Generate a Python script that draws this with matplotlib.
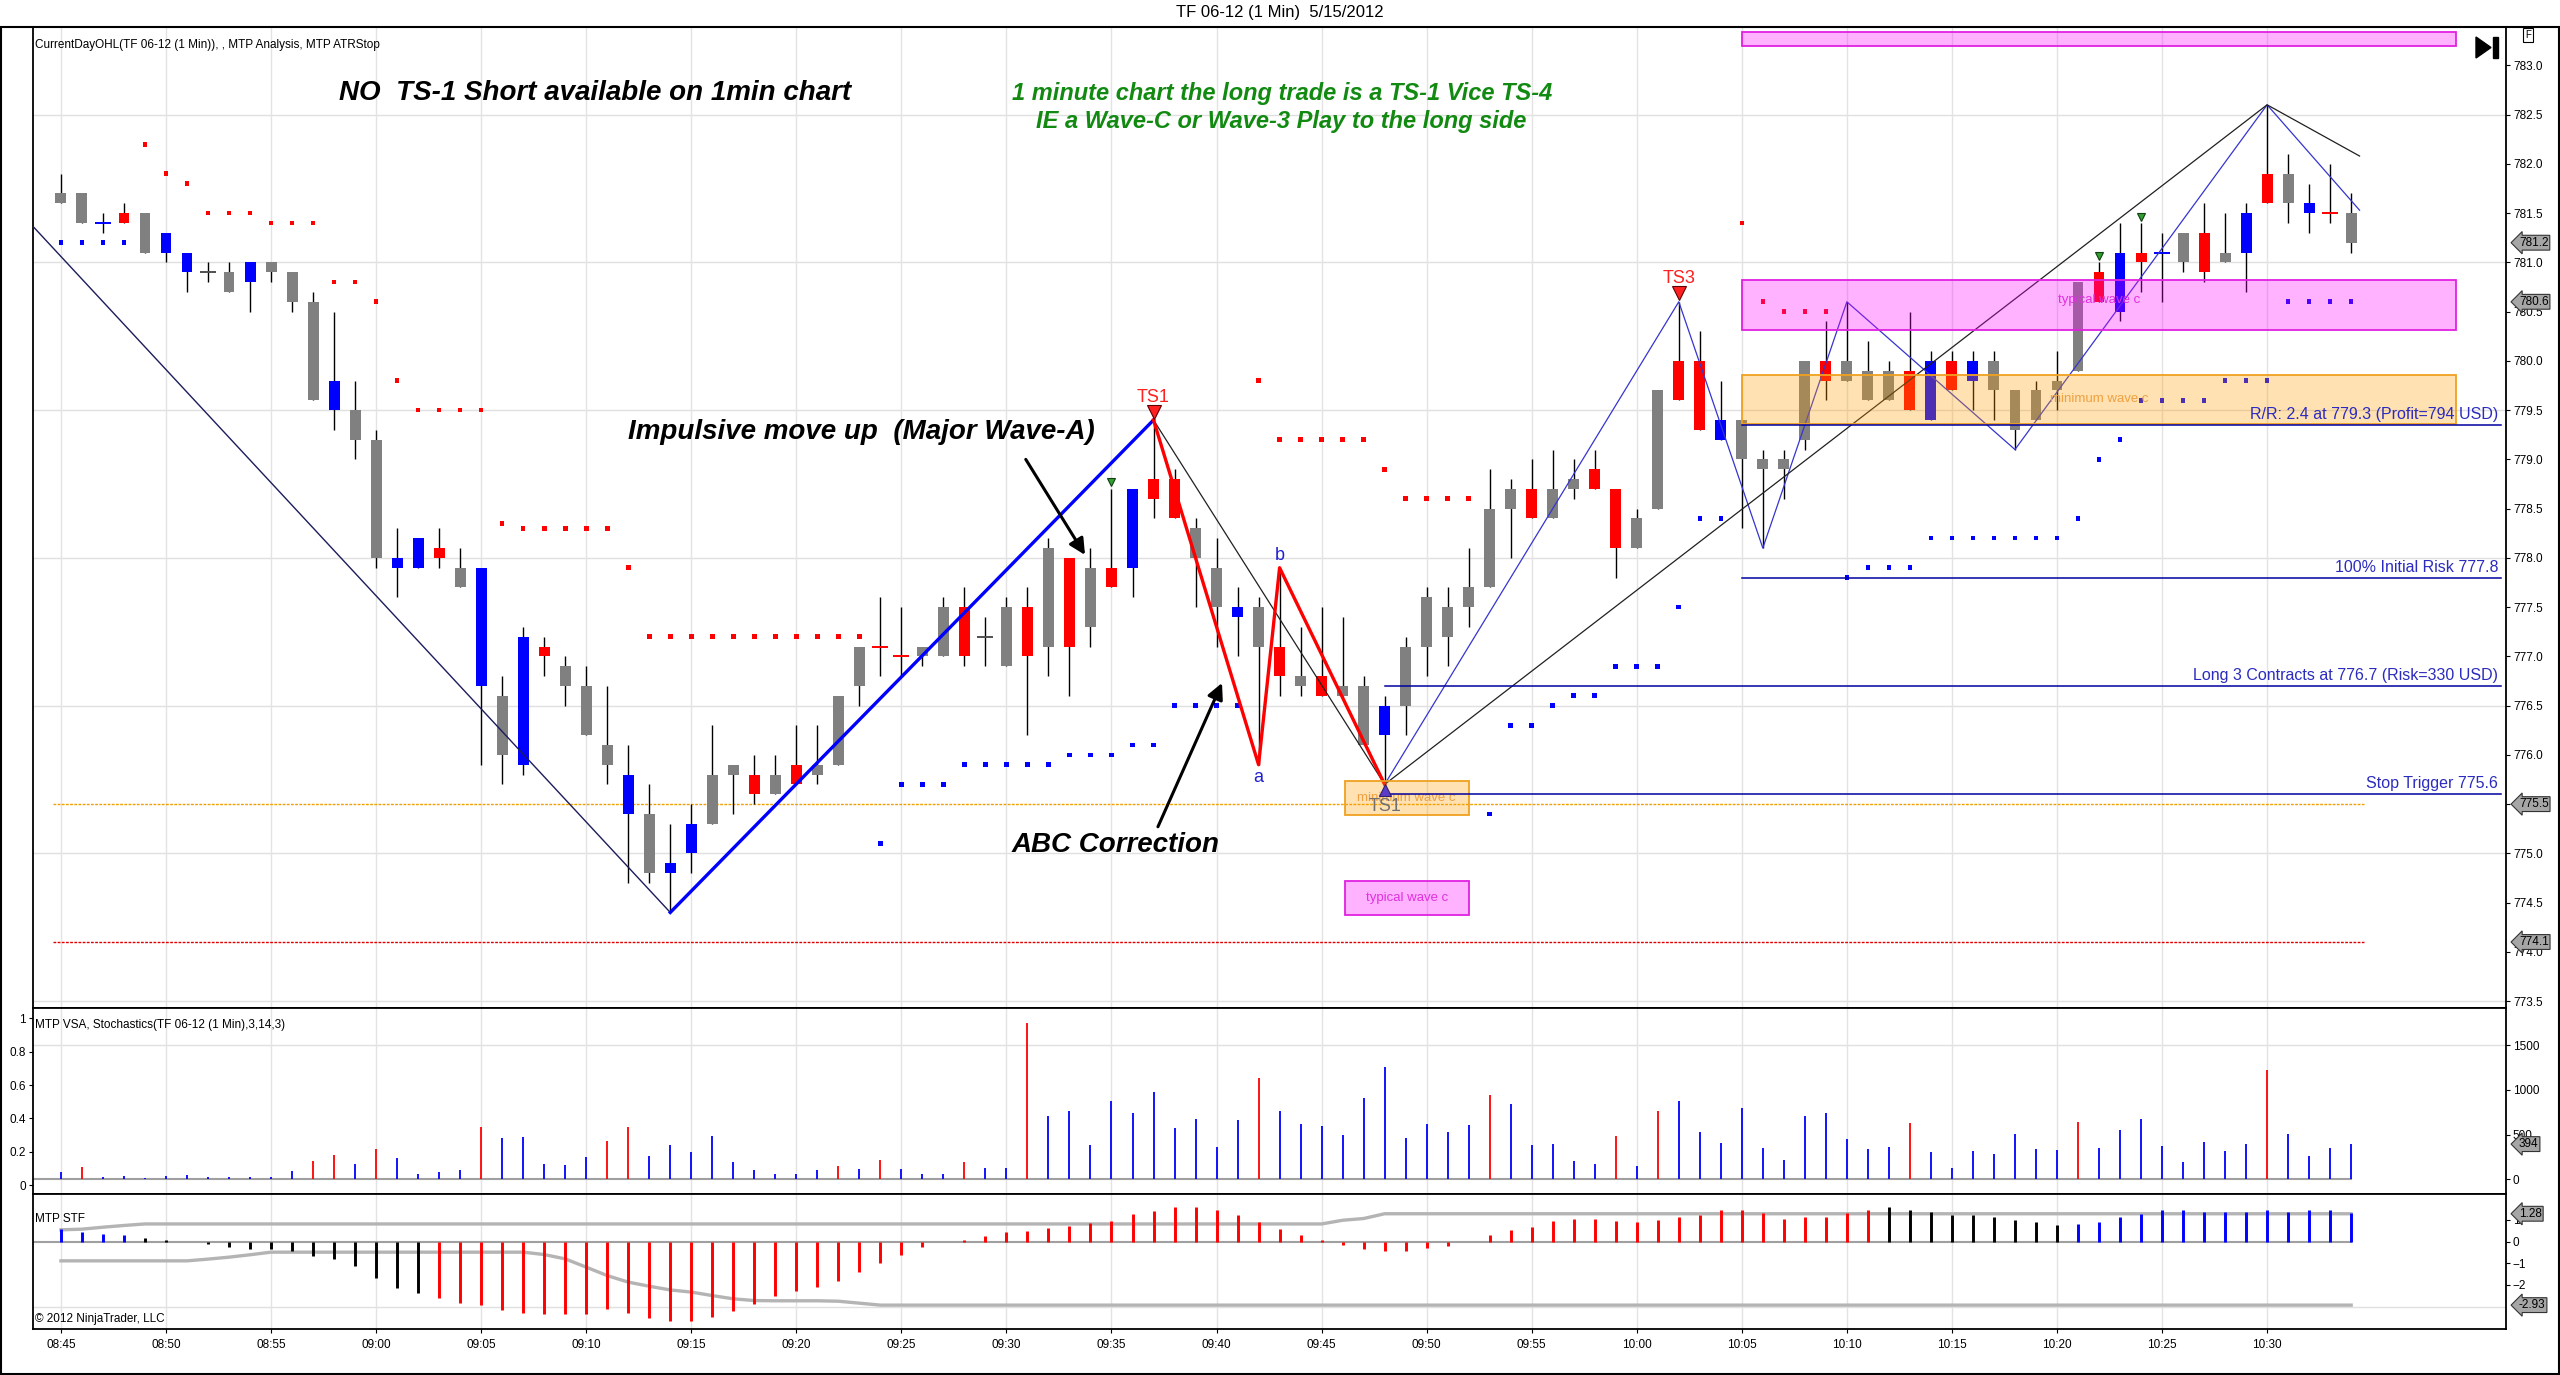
import numpy as np
import matplotlib
matplotlib.use("Agg")
import matplotlib.pyplot as plt
from matplotlib.patches import Rectangle, Polygon

plt.rcParams["font.family"] = ["Liberation Sans Narrow", "Liberation Sans", "DejaVu Sans"]

# ---------------- data ----------------
time_labels = ["08:45", "08:50", "08:55", "09:00", "09:05", "09:10", "09:15", "09:20",
               "09:25", "09:30", "09:35", "09:40", "09:45", "09:50", "09:55", "10:00",
               "10:05", "10:10", "10:15", "10:20", "10:25", "10:30"]

opens = [781.7, 781.7, 781.4, 781.4, 781.5, 781.3, 781.1, 780.9, 780.9, 780.8,
         781.0, 780.9, 780.6, 779.5, 779.5, 779.2, 777.9, 777.9, 778.1, 777.9,
         777.9, 776.6, 775.9, 777.1, 776.9, 776.7, 776.1, 775.8, 775.4, 774.8,
         775.0, 775.3, 775.8, 775.8, 775.6, 775.9, 775.8, 775.9, 776.7, 777.1,
         777.0, 777.0, 777.0, 777.5, 777.2, 776.9, 777.5, 777.1, 778.0, 777.3,
         777.9, 777.9, 778.8, 778.8, 778.3, 777.9, 777.4, 777.5, 777.1, 776.8,
         776.8, 776.7, 776.7, 776.2, 776.5, 777.1, 777.5, 777.5, 777.7, 778.5,
         778.7, 778.4, 778.7, 778.9, 778.7, 778.1, 778.5, 780.0, 780.0, 779.2,
         779.4, 779.0, 778.9, 779.2, 780.0, 779.8, 779.9, 779.6, 779.9, 779.4,
         780.0, 779.8, 780.0, 779.7, 779.4, 779.7, 779.9, 780.9, 780.5, 781.1,
         781.1, 781.0, 781.3, 781.0, 781.1, 781.9, 781.9, 781.5, 781.5, 781.5]
highs = [781.9, 781.7, 781.5, 781.6, 781.5, 781.3, 781.1, 781.0, 781.0, 781.0,
         781.0, 780.9, 780.7, 780.5, 779.8, 779.3, 778.3, 778.2, 778.3, 778.1,
         777.9, 776.8, 777.3, 777.2, 777.0, 776.9, 776.7, 776.1, 775.7, 775.3,
         775.5, 776.3, 775.9, 776.0, 776.0, 776.3, 776.3, 776.6, 777.1, 777.6,
         777.5, 777.1, 777.6, 777.7, 777.4, 777.6, 777.7, 778.2, 778.0, 778.1,
         778.7, 778.7, 779.4, 778.9, 778.4, 778.2, 777.7, 777.6, 777.9, 777.3,
         777.5, 777.4, 776.8, 776.6, 777.2, 777.7, 777.7, 778.1, 778.9, 778.8,
         779.0, 779.1, 779.0, 779.1, 778.7, 778.5, 779.7, 780.6, 780.3, 779.8,
         779.4, 779.1, 779.1, 780.0, 780.4, 780.6, 780.2, 780.0, 780.5, 780.1,
         780.1, 780.1, 780.1, 779.7, 779.8, 780.1, 780.8, 781.0, 781.4, 781.4,
         781.3, 781.3, 781.6, 781.5, 781.6, 782.6, 782.1, 781.8, 782.0, 781.7]
lows = [781.6, 781.4, 781.3, 781.4, 781.1, 781.0, 780.7, 780.8, 780.7, 780.5,
        780.8, 780.5, 779.6, 779.3, 779.0, 777.9, 777.6, 777.9, 777.9, 777.7,
        775.9, 775.7, 775.8, 776.8, 776.5, 776.2, 775.7, 774.7, 774.7, 774.4,
        774.8, 775.3, 775.4, 775.5, 775.6, 775.7, 775.7, 775.9, 776.5, 776.8,
        776.8, 776.9, 777.0, 776.9, 776.9, 776.9, 776.2, 776.8, 776.6, 777.1,
        777.7, 777.6, 778.4, 778.4, 777.5, 777.1, 777.0, 775.9, 776.6, 776.6,
        776.6, 776.6, 776.1, 775.7, 776.2, 776.8, 776.9, 777.3, 777.7, 778.0,
        778.4, 778.4, 778.6, 778.7, 777.8, 778.1, 778.5, 779.6, 779.3, 779.2,
        778.3, 778.1, 778.6, 779.1, 779.6, 779.8, 779.6, 779.6, 779.5, 779.4,
        779.7, 779.5, 779.4, 779.1, 779.4, 779.5, 779.9, 780.6, 780.4, 780.7,
        780.6, 780.9, 780.8, 781.0, 780.7, 781.6, 781.4, 781.3, 781.4, 781.1]
closes = [781.6, 781.4, 781.4, 781.5, 781.1, 781.1, 780.9, 780.9, 780.7, 781.0,
          780.9, 780.6, 779.6, 779.8, 779.2, 778.0, 778.0, 778.2, 778.0, 777.7,
          776.7, 776.0, 777.2, 777.0, 776.7, 776.2, 775.9, 775.4, 774.8, 774.9,
          775.3, 775.8, 775.9, 775.6, 775.8, 775.7, 775.9, 776.6, 777.1, 777.1,
          777.0, 777.1, 777.5, 777.0, 777.2, 777.5, 777.0, 778.1, 777.1, 777.9,
          777.7, 778.7, 778.6, 778.4, 778.0, 777.5, 777.5, 777.1, 776.8, 776.7,
          776.6, 776.6, 776.1, 776.5, 777.1, 777.6, 777.2, 777.7, 778.5, 778.7,
          778.4, 778.7, 778.8, 778.7, 778.1, 778.4, 779.7, 779.6, 779.3, 779.4,
          779.0, 778.9, 779.0, 780.0, 779.8, 780.0, 779.6, 779.9, 779.5, 780.0,
          779.7, 780.0, 779.7, 779.3, 779.7, 779.8, 780.8, 780.6, 781.1, 781.0,
          781.1, 781.3, 780.9, 781.1, 781.5, 781.6, 781.6, 781.6, 781.5, 781.2]
# g = gray, b = blue, r = red (MTP bar colouring)
bar_colors = ("ggbrgbbggb" "gggbggbbrg" "bgbrgggbgb" "bggrgrgggr" "rggrggrgrg"
              "rbrrggbgrg" "rggbgggggg" "rggrrggrrb" "ggggrgggrb" "rbgggggrbr" "bgrgbrgbrg")

# ATR stop dots
atr_stop = ([781.2] * 4 + [782.2, 781.9, 781.8] + [781.5] * 3 + [781.4] * 3 + [780.8] * 2
            + [780.6, 779.8] + [779.5] * 4 + [778.35] + [778.3] * 5 + [777.9] + [777.2] * 11
            + [775.1] + [775.7] * 3 + [775.9] * 5 + [776.0] * 3 + [776.1] * 2 + [776.5] * 4
            + [779.8] + [779.2] * 5 + [778.9] + [778.6] * 4
            + [775.4] + [776.3] * 2 + [776.5] + [776.6] * 2 + [776.9] * 3 + [777.5] + [778.4] * 2
            + [781.4, 780.6] + [780.5] * 3
            + [777.8] + [777.9] * 3 + [778.2] * 7 + [778.4, 779.0, 779.2] + [779.6] * 4
            + [779.8] * 3 + [780.6] * 4)
atr_colors = "b" * 4 + "r" * 35 + "b" * 18 + "r" * 11 + "b" * 12 + "r" * 5 + "b" * 25

volume = [78, 138, 22, 37, 11, 37, 48, 26, 26, 26,
          26, 93, 205, 272, 172, 339, 239, 63, 82, 104,
          585, 466, 477, 172, 160, 250, 429, 585, 265, 384,
          306, 489, 194, 104, 63, 63, 104, 149, 116, 213,
          116, 63, 63, 194, 127, 127, 1749, 709, 764, 384,
          876, 742, 977, 574, 675, 362, 664, 1134, 764, 619,
          597, 496, 910, 1257, 462, 619, 530, 608, 943, 843,
          384, 395, 205, 172, 485, 149, 764, 876, 530, 406,
          798, 351, 216, 709, 742, 451, 339, 362, 630, 306,
          127, 317, 283, 507, 339, 328, 641, 351, 552, 675,
          373, 194, 418, 317, 395, 1223, 507, 261, 351, 394]
vol_colors = ("brbbbbbbbb" "bbrrbrbbbb" "rbbbbbrrbb" "bbbbbbbrbr" "bbbrbbrbbb"
              "bbbbbbbrbb" "bbbbbbbbrb" "bbbbrbrbbb" "bbbbbbbbrb" "bbbbbbrbbb" "bbbbbrbbbb")

stf = [0.60, 0.46, 0.35, 0.28, 0.17, 0.06, -0.03, -0.12, -0.26, -0.34,
       -0.34, -0.45, -0.65, -0.81, -1.14, -1.69, -2.14, -2.38, -2.61, -2.84,
       -2.93, -3.16, -3.27, -3.35, -3.35, -3.32, -3.12, -3.30, -3.53, -3.67,
       -3.67, -3.49, -3.21, -2.89, -2.52, -2.29, -2.10, -1.83, -1.41, -1.00,
       -0.63, -0.26, 0.0, 0.09, 0.25, 0.43, 0.48, 0.61, 0.71, 0.84,
       0.94, 1.26, 1.40, 1.61, 1.61, 1.47, 1.20, 0.89, 0.58, 0.28,
       0.09, -0.14, -0.35, -0.45, -0.45, -0.32, -0.22, 0.0, 0.32, 0.55,
       0.65, 0.94, 1.06, 1.06, 0.94, 0.88, 1.01, 1.15, 1.20, 1.43,
       1.47, 1.31, 1.06, 1.12, 1.15, 1.31, 1.43, 1.58, 1.43, 1.38,
       1.24, 1.24, 1.11, 1.01, 0.89, 0.78, 0.83, 0.88, 1.11, 1.29,
       1.43, 1.43, 1.38, 1.34, 1.34, 1.43, 1.38, 1.43, 1.43, 1.31]
stf_colors = "b" * 4 + "k" * 14 + "r" * 69 + "k" * 9 + "b" * 14
stf_upper = [0.54, 0.57, 0.66, 0.74] + [0.81] * 57 + [0.98, 1.06] + [1.28] * 47
stf_lower = ([-0.89] * 7 + [-0.81, -0.72, -0.61] + [-0.49] * 13
             + [-0.60, -0.80, -1.18, -1.57, -1.87, -2.06, -2.23, -2.33, -2.49, -2.64,
                -2.72, -2.73, -2.73, -2.73, -2.75, -2.84] + [-2.93] * 71)

# swing / wave lines (bar index, price)
down_leg = ([-1.35, 29], [781.37, 774.4])
wave_a = ([29, 52], [774.4, 779.4])
abc_leg = ([52, 57, 58, 63], [779.4, 775.9, 777.9, 775.7])
ts1_leg = ([52, 63], [779.4, 775.7])
swing_blue = ([63, 77, 81, 85, 93, 105, 109.4], [775.7, 780.6, 778.1, 780.6, 779.1, 782.6, 781.53])
swing_black = ([63, 105, 109.4], [775.7, 782.6, 782.08])

# trade levels: price, first bar, label
levels = [(779.35, 80, "R/R: 2.4 at 779.3 (Profit=794 USD)"),
          (777.8, 80, "100% Initial Risk 777.8"),
          (776.7, 63, "Long 3 Contracts at 776.7 (Risk=330 USD)"),
          (775.6, 63, "Stop Trigger 775.6")]

# target zones: x0, x1, y0, y1, kind, label
zones = [(80, 114, 783.20, 783.34, "pink", ""),
         (80, 114, 780.31, 780.82, "pink", "typical wave c"),
         (80, 114, 779.36, 779.86, "orange", "minimum wave c"),
         (61.1, 67.0, 775.39, 775.73, "orange", "minimum wave c"),
         (61.1, 67.0, 774.37, 774.72, "pink", "typical wave c")]

# ---------------- figure ----------------
W, H = 2560, 1375
L, R = 33, 2506
fig = plt.figure(figsize=(W / 100, H / 100), dpi=100)
fig.patch.set_facecolor("white")


def panel(top, bottom):
    return fig.add_axes([L / W, 1 - bottom / H, (R - L) / W, (bottom - top) / H])


ax = panel(27, 1008)
axv = panel(1008, 1194)
axs = panel(1194, 1329)

bars = np.arange(len(opens))
xlim = (-1.33, 116.37)
tick_pos = np.arange(0, 106, 5)
for a in (ax, axv, axs):
    a.set_xlim(*xlim)
    a.set_xticks(tick_pos)
    a.grid(axis="x", color="#e3e3e3", lw=1, zorder=0)
    for s in a.spines.values():
        s.set_linewidth(1.3)
        s.set_color("black")
    a.tick_params(axis="y", which="both", left=False, right=True, labelleft=False,
                  labelright=True, direction="out", length=3, labelsize=8.5, pad=2)
for a in (ax, axv):
    a.tick_params(axis="x", length=0, labelbottom=False)
axs.set_xticklabels(time_labels)
axs.tick_params(axis="x", length=3, labelsize=8.5, pad=4)

# ---- main price panel ----
ax.set_ylim(773.43, 783.39)
price_ticks = np.arange(773.5, 783.01, 0.5)
ax.set_yticks(price_ticks)
ax.set_yticklabels([f"{p:.1f}" for p in price_ticks])
for gy in [773.5, 775.0, 776.5, 778.0, 779.5, 781.0, 782.5]:
    ax.axhline(gy, color="#e0e0e0", lw=1, zorder=0)

cmap = {"g": "#808080", "b": "#0000ff", "r": "#ff0000", "k": "#000000"}
o, h, l, c = map(np.array, (opens, highs, lows, closes))
cols = np.array([cmap[k] for k in bar_colors])
ax.vlines(bars, l, h, color="black", lw=1, zorder=3)
lo, hi = np.minimum(o, c), np.maximum(o, c)
has_body = (hi - lo) > 0.01
ax.bar(bars[has_body], (hi - lo)[has_body], bottom=lo[has_body], width=0.52,
       color=cols[has_body], linewidth=0, zorder=4)
doji_cols = ["#505050" if k == "g" else cmap[k] for k in np.array(list(bar_colors))[~has_body]]
ax.hlines(o[~has_body], bars[~has_body] - 0.38, bars[~has_body] + 0.38,
          colors=doji_cols, lw=1.4, zorder=4)

ax.scatter(bars, atr_stop, marker="s", s=11, c=[cmap[k] for k in atr_colors],
           linewidths=0, zorder=4.2)

# reference dotted lines
ax.plot([-0.4, 109.6], [775.5, 775.5], color="#f0a000", lw=1, ls=(0, (2, 1)), zorder=2)
ax.plot([-0.4, 109.6], [774.1, 774.1], color="#e00000", lw=1, ls=(0, (2, 1)), zorder=2)

# wave lines
ax.plot(*down_leg, color="#1c1c5c", lw=1, zorder=4.5)
ax.plot(*wave_a, color="#0000ff", lw=2.4, zorder=4.6)
ax.plot(*ts1_leg, color="#202020", lw=0.9, zorder=4.5)
ax.plot(*abc_leg, color="#ff0000", lw=2.4, zorder=4.6)
ax.plot(*swing_blue, color="#3535d0", lw=0.9, zorder=4.5)
ax.plot(*swing_black, color="#202020", lw=0.9, zorder=4.5)

# zones
zone_style = {"pink": ((1, 0, 1, 0.3), "#e020e0", "#e030e0"),
              "orange": ((1, 0.62, 0, 0.3), "#f0a020", "#f0a040")}
for x0, x1, y0, y1, kind, label in zones:
    fc, ec, tc = zone_style[kind]
    ax.add_patch(Rectangle((x0, y0), x1 - x0, y1 - y0, facecolor=fc, edgecolor=ec,
                           lw=1.3, zorder=5))
    if label:
        ax.text((x0 + x1) / 2 if x1 < 100 else 97, (y0 + y1) / 2 + (0.05 if kind == "pink" and x1 > 100 else 0),
                label, color=tc, fontsize=9.5, ha="center", va="center", zorder=5.5)

# trade levels
for price, start, label in levels:
    ax.plot([start, 116.13], [price, price], color="#0000a0", lw=1.1, zorder=6)
    ax.text(116.0, price + 0.03, label, color="#2b2bbf", fontsize=11.5, ha="right",
            va="bottom", zorder=7)

# signal markers
ax.plot(52, 779.48, marker="v", ms=10, mfc="#ff2020", mec="#600000", mew=0.8, zorder=8)
ax.text(52, 779.63, "TS1", color="#ff2020", fontsize=13, ha="center", va="center", zorder=8)
ax.plot(77, 780.69, marker="v", ms=10, mfc="#ff2020", mec="#600000", mew=0.8, zorder=8)
ax.text(77, 780.84, "TS3", color="#ff2020", fontsize=13, ha="center", va="center", zorder=8)
ax.plot(63, 775.64, marker="^", ms=9, mfc="#5a3cc8", mec="#302070", mew=0.8, zorder=8)
ax.text(63, 775.48, "TS1", color="#707070", fontsize=13, ha="center", va="center", zorder=8)
for gx, gy in [(50, 778.77), (97, 781.06), (99, 781.46)]:
    ax.plot(gx, gy, marker="v", ms=6, mfc="#30a030", mec="#104010", mew=0.8, zorder=8)
ax.text(57, 775.77, "a", color="#2020d0", fontsize=13, ha="center", va="center", zorder=8)
ax.text(58, 778.02, "b", color="#2020d0", fontsize=13, ha="center", va="center", zorder=8)

# commentary
bi = dict(fontweight="bold", fontstyle="italic", zorder=9)
ax.text(25.4, 782.72, "NO  TS-1 Short available on 1min chart", fontsize=20,
        color="black", ha="center", va="center", **bi)
ax.text(58.1, 782.71, "1 minute chart the long trade is a TS-1 Vice TS-4", fontsize=17,
        color="#128a12", ha="center", va="center", **bi)
ax.text(58.1, 782.43, "IE a Wave-C or Wave-3 Play to the long side", fontsize=17,
        color="#128a12", ha="center", va="center", **bi)
ax.text(38.1, 779.28, "Impulsive move up  (Major Wave-A)", fontsize=20, color="black",
        ha="center", va="center", **bi)
ax.text(50.2, 775.09, "ABC Correction", fontsize=20, color="black", ha="center",
        va="center", **bi)
arrow = dict(arrowstyle="-|>", color="black", lw=2.2, mutation_scale=24, shrinkA=0, shrinkB=0)
ax.annotate("", xy=(48.74, 778.03), xytext=(45.92, 779.0), arrowprops=arrow, zorder=9)
ax.annotate("", xy=(55.26, 776.73), xytext=(52.21, 775.27), arrowprops=arrow, zorder=9)

ax.text(0.001, 0.988, "CurrentDayOHL(TF 06-12 (1 Min)), , MTP Analysis, MTP ATRStop",
        transform=ax.transAxes, fontsize=8.5, ha="left", va="top")


def tag(axis, y, s):
    axis.text(1.0052, y, s, transform=axis.get_yaxis_transform(), ha="left", va="center",
              fontsize=8.5, zorder=20, clip_on=False,
              bbox=dict(boxstyle="larrow,pad=0.12", fc="#a6a6a6", ec="#333333", lw=0.8))


for p in [781.2, 780.6, 775.5, 774.1]:
    tag(ax, p, f"{p:.1f}")

# ---- volume panel ----
axv.set_ylim(-164, 1916)
axv.set_yticks([0, 500, 1000, 1500])
axv.axhline(1500, color="#e0e0e0", lw=1, zorder=0)
axv.plot([xlim[0], 109], [0, 0], color="#a0a0a0", lw=1.5, zorder=2)
axv.vlines(bars, 0, volume, colors=[cmap[k] for k in vol_colors], lw=1.3, zorder=3)
axv.text(0.001, 0.94, "MTP VSA, Stochastics(TF 06-12 (1 Min),3,14,3)",
         transform=axv.transAxes, fontsize=8.5, ha="left", va="top")
tag(axv, 394, "394")
axst = axv.twinx()
axst.set_ylim(-0.054, 1.062)
axst.set_yticks([0, 0.2, 0.4, 0.6, 0.8, 1])
axst.set_yticklabels(["0", "0.2", "0.4", "0.6", "0.8", "1"])
axst.tick_params(axis="y", left=True, right=False, labelleft=True, labelright=False,
                 direction="out", length=3, labelsize=8.5, pad=2)
axv.tick_params(axis="y", left=False, right=True, labelleft=False, labelright=True)
for s in axst.spines.values():
    s.set_visible(False)

# ---- STF panel ----
axs.set_ylim(-4.03, 2.19)
axs.set_yticks([-2, -1, 0, 1])
axs.axhline(-3, color="#e0e0e0", lw=1, zorder=0)
axs.plot([xlim[0], 109], [0, 0], color="#a0a0a0", lw=1.5, zorder=2)
axs.plot(bars, stf_upper, color="#b4b4b4", lw=2.4, zorder=2)
axs.plot(bars, stf_lower, color="#b4b4b4", lw=2.4, zorder=2)
axs.vlines(bars, 0, stf, colors=[cmap[k] for k in stf_colors], lw=2.1, zorder=3)
axs.text(0.001, 0.86, "MTP STF", transform=axs.transAxes, fontsize=8.5, ha="left", va="top")
axs.text(0.001, 0.03, "\u00a9 2012 NinjaTrader, LLC", transform=axs.transAxes,
         fontsize=8.5, ha="left", va="bottom")
tag(axs, 1.28, "1.28")
tag(axs, -2.93, "-2.93")

# ---- frame, title and toolbar glyphs ----
fig.text(0.5, 1 - 13 / H, "TF 06-12 (1 Min)  5/15/2012", ha="center", va="center", fontsize=12)
fig.add_artist(Rectangle((0.0004, 0.0006), 0.9992, 1 - 27 / H - 0.0006, transform=fig.transFigure,
                         fill=False, ec="black", lw=1.5))
fig.add_artist(Polygon([(2476 / W, 1 - 37 / H), (2476 / W, 1 - 58 / H), (2491 / W, 1 - 47.5 / H)],
                       closed=True, transform=fig.transFigure, fc="black", ec="black"))
fig.add_artist(Rectangle((2493 / W, 1 - 58 / H), 5 / W, 21 / H, transform=fig.transFigure,
                         fc="black", ec="black"))
fig.text(2528 / W, 1 - 35 / H, "F", ha="center", va="center", fontsize=7,
         bbox=dict(boxstyle="square,pad=0.25", fc="white", ec="black", lw=0.8))

fig.savefig("out.png", dpi=100)
